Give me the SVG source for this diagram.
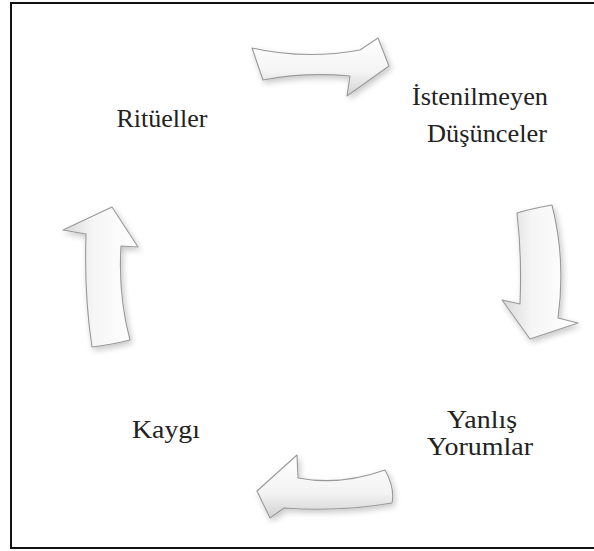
<svg xmlns="http://www.w3.org/2000/svg" width="594" height="551" viewBox="0 0 594 551">
<style>
.lbl{font-family:"Liberation Serif","Times New Roman",serif;font-size:25px;fill:#222;text-anchor:middle}
.arr{stroke:#999;stroke-width:1.1;stroke-linejoin:round;filter:url(#sh)}
</style>
<defs>
<linearGradient id="gh" x1="0" y1="0" x2="0" y2="1">
<stop offset="0" stop-color="#ffffff"/><stop offset="0.6" stop-color="#f3f3f3"/><stop offset="1" stop-color="#d2d2d2"/>
</linearGradient>
<linearGradient id="gv" x1="0" y1="0" x2="1" y2="0">
<stop offset="0" stop-color="#d8d8d8"/><stop offset="0.4" stop-color="#f6f6f6"/><stop offset="1" stop-color="#ffffff"/>
</linearGradient>
<filter id="sh" x="-30%" y="-30%" width="160%" height="160%">
<feGaussianBlur in="SourceAlpha" stdDeviation="3"/>
<feOffset dx="2" dy="3" result="b"/>
<feComponentTransfer><feFuncA type="linear" slope="0.22"/></feComponentTransfer>
<feMerge><feMergeNode/><feMergeNode in="SourceGraphic"/></feMerge>
</filter>
</defs>
<rect width="594" height="551" fill="#ffffff"/>
<rect x="11" y="3" width="590" height="545" fill="none" stroke="#111" stroke-width="2"/>
<g id="connectors">
<path class="arr" fill="url(#gh)" d="M252,48 Q305,60 360,50 L378,38 L389,66 L347,96 L350,76 Q305,72 263,80 Z"/>
<path class="arr" fill="url(#gv)" d="M517,213 Q530,209 552,205 Q566,260 558,318 L578,323 L530,339 L502,300 L520,304 Q522,255 517,213 Z"/>
<path class="arr" fill="url(#gh)" d="M385,470 Q395,488 392,503 Q340,512 284,508 L270,518 L257,491 L297,455 L298,478 Q340,486 385,470 Z"/>
<path class="arr" fill="url(#gv)" d="M92,347 Q110,345 130,340 Q118,295 121,246 L138,247 L112,207 L63,230 L86,234 Q84,295 92,347 Z"/>
</g>
<g id="ritueller"><text class="lbl" x="162" y="127" textLength="91" lengthAdjust="spacingAndGlyphs">Ritüeller</text></g>
<g id="istenilmeyen"><text class="lbl" x="480" y="105" textLength="136" lengthAdjust="spacingAndGlyphs">İstenilmeyen</text><text class="lbl" x="487" y="142" textLength="120" lengthAdjust="spacingAndGlyphs">Düşünceler</text></g>
<g id="yanlis"><text class="lbl" x="482" y="428" textLength="70" lengthAdjust="spacingAndGlyphs">Yanlış</text><text class="lbl" x="480" y="455" textLength="106" lengthAdjust="spacingAndGlyphs">Yorumlar</text></g>
<g id="kaygi"><text class="lbl" x="166" y="438" textLength="68" lengthAdjust="spacingAndGlyphs">Kaygı</text></g>
</svg>
